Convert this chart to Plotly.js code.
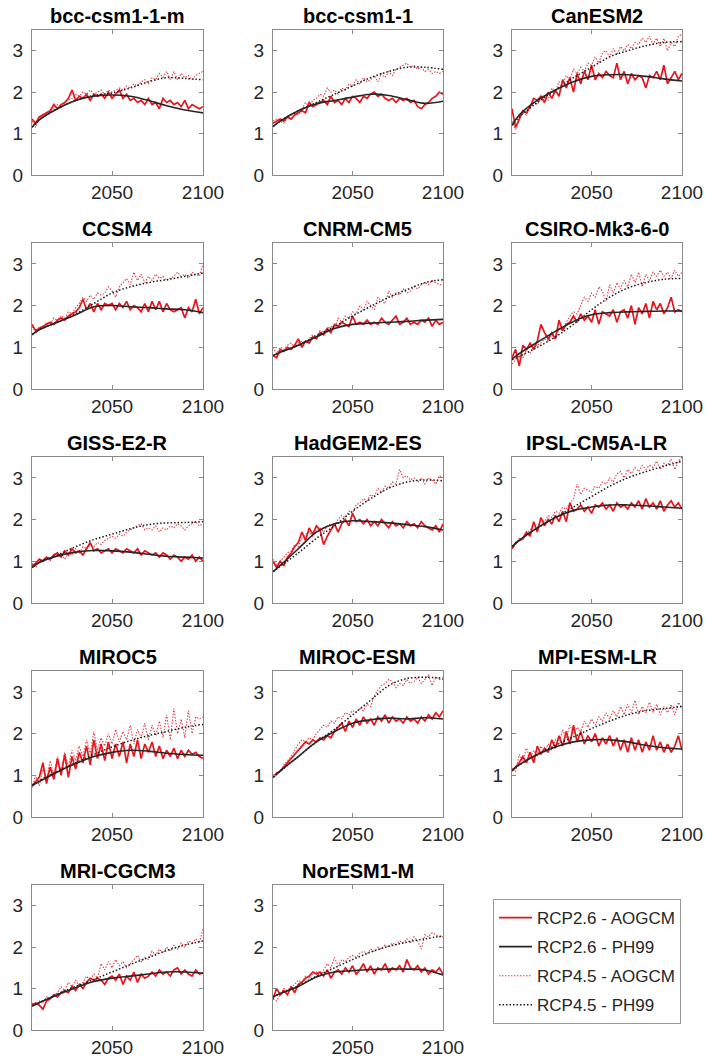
<!DOCTYPE html>
<html>
<head>
<meta charset="utf-8">
<script src="https://cdn.plot.ly/plotly-3.0.1.min.js"></script>
<style>html,body{margin:0;padding:0;background:#fff;}#chart{width:705px;height:1058px;}</style>
</head>
<body>
<div id="chart"></div>
<script>
// ---------------- DATA ----------------
const modelNames = ["bcc-csm1-1-m","bcc-csm1-1","CanESM2","CCSM4","CNRM-CM5","CSIRO-Mk3-6-0","GISS-E2-R","HadGEM2-ES","IPSL-CM5A-LR","MIROC5","MIROC-ESM","MPI-ESM-LR","MRI-CGCM3","NorESM1-M"];
const seriesNames = ["RCP2.6 - AOGCM","RCP2.6 - PH99","RCP4.5 - AOGCM","RCP4.5 - PH99"];
const xTickVals = [2050, 2100];
const yTickVals = [0, 1, 2, 3];

const yearsAOGCM = [2006,2008,2010,2012,2014,2016,2018,2020,2022,2024,2026,2028,2030,2032,2034,2036,2038,2040,2042,2044,2046,2048,2050,2052,2054,2056,2058,2060,2062,2064,2066,2068,2070,2072,2074,2076,2078,2080,2082,2084,2086,2088,2090,2092,2094,2096,2098,2100];
const yearsPH99 = [2006,2010,2020,2030,2040,2050,2060,2070,2080,2090,2100];

// bcc-csm1-1-m
const bccm_aog26 = [1.35,1.25,1.4,1.45,1.5,1.55,1.7,1.6,1.7,1.75,1.85,2.05,1.8,1.9,1.85,1.95,1.8,1.95,1.9,1.95,1.85,2.0,1.85,1.95,2.05,1.85,1.95,1.8,1.85,1.75,1.8,1.7,1.85,1.7,1.75,1.6,1.85,1.75,1.8,1.7,1.75,1.65,1.8,1.6,1.7,1.65,1.6,1.65];
const bccm_ph26  = [1.15,1.33,1.6,1.8,1.9,1.93,1.9,1.8,1.67,1.57,1.5];
const bccm_aog45 = [1.3,1.15,1.35,1.45,1.5,1.55,1.6,1.7,1.65,1.75,1.8,1.85,1.95,1.9,2.0,1.95,2.05,1.95,2.0,2.05,1.95,2.05,2.0,2.05,2.1,2.05,2.15,2.1,2.2,2.15,2.25,2.3,2.2,2.35,2.3,2.45,2.35,2.5,2.3,2.5,2.3,2.45,2.35,2.4,2.3,2.4,2.45,2.5];
const bccm_ph45  = [1.15,1.33,1.6,1.8,1.92,1.98,2.1,2.25,2.35,2.33,2.3];
// bcc-csm1-1
const bcc_aog26 = [1.25,1.3,1.35,1.3,1.4,1.35,1.45,1.5,1.55,1.5,1.75,1.65,1.7,1.75,1.8,1.7,1.9,1.75,1.8,1.7,1.85,1.75,1.9,1.85,1.75,1.9,1.85,1.95,2.0,1.9,1.95,1.85,1.8,1.85,1.75,1.85,1.8,1.85,1.75,1.8,1.65,1.6,1.7,1.75,1.85,1.9,2.0,1.95];
const bcc_ph26  = [1.17,1.3,1.55,1.72,1.8,1.88,1.95,1.92,1.82,1.73,1.78];
const bcc_aog45 = [1.3,1.35,1.3,1.25,1.4,1.45,1.5,1.45,1.6,1.75,1.65,1.8,1.85,1.95,1.9,2.1,2.0,2.05,1.95,2.1,2.05,2.2,2.15,2.3,2.2,2.35,2.25,2.3,2.4,2.25,2.45,2.35,2.5,2.4,2.55,2.6,2.65,2.7,2.6,2.65,2.55,2.6,2.5,2.55,2.45,2.5,2.45,2.5];
const bcc_ph45  = [1.17,1.3,1.55,1.75,1.95,2.15,2.35,2.5,2.6,2.6,2.55];
// CanESM2
const can_aog26 = [1.6,1.15,1.35,1.55,1.5,1.65,1.85,1.8,1.9,1.75,2.0,1.85,2.05,1.9,2.3,2.1,2.35,2.0,2.45,2.2,2.5,2.3,2.65,2.3,2.45,2.35,2.5,2.4,2.35,2.7,2.3,2.5,2.2,2.45,2.3,2.4,2.35,2.1,2.4,2.35,2.5,2.3,2.65,2.2,2.35,2.5,2.3,2.45];
const can_ph26  = [1.2,1.45,1.8,2.05,2.25,2.38,2.42,2.42,2.38,2.32,2.27];
const can_aog45 = [1.3,1.1,1.35,1.5,1.45,1.65,1.75,1.7,1.85,1.9,1.8,2.1,2.0,2.25,2.2,2.4,2.3,2.55,2.45,2.6,2.5,2.7,2.65,2.85,2.7,2.95,3.0,2.85,3.05,2.9,3.1,3.0,3.15,3.05,3.2,3.15,3.3,3.2,3.35,3.15,3.3,3.1,3.3,3.0,3.2,3.1,3.35,3.4];
const can_ph45  = [1.2,1.4,1.75,2.05,2.35,2.6,2.85,3.0,3.12,3.2,3.22];
// CCSM4
const ccsm_aog26 = [1.55,1.4,1.45,1.5,1.55,1.6,1.55,1.65,1.7,1.65,1.75,1.8,1.85,1.95,2.15,1.9,2.05,1.85,2.05,1.9,2.05,2.0,2.05,1.9,2.05,1.95,2.1,1.9,2.0,1.95,1.85,2.05,1.85,2.1,1.9,2.1,1.85,2.05,1.9,1.85,1.9,1.95,1.7,1.95,1.85,2.15,1.8,1.95];
const ccsm_ph26  = [1.3,1.42,1.6,1.78,1.97,2.0,1.97,1.95,1.92,1.9,1.83];
const ccsm_aog45 = [1.5,1.35,1.5,1.45,1.6,1.55,1.7,1.65,1.75,1.7,1.85,1.8,1.95,2.05,2.2,2.1,2.25,2.15,2.3,2.25,2.3,2.45,2.35,2.2,2.45,2.55,2.65,2.5,2.8,2.6,2.75,2.55,2.7,2.6,2.75,2.65,2.7,2.6,2.65,2.7,2.8,2.7,2.75,2.65,2.8,2.75,2.7,3.0];
const ccsm_ph45  = [1.3,1.42,1.6,1.8,2.05,2.3,2.45,2.55,2.62,2.7,2.78];
// CNRM-CM5
const cnrm_aog26 = [0.8,0.75,0.95,0.9,1.0,0.95,1.05,1.2,1.0,1.15,1.1,1.25,1.2,1.35,1.3,1.45,1.35,1.55,1.5,1.6,1.55,1.5,1.75,1.55,1.6,1.55,1.65,1.55,1.6,1.55,1.7,1.6,1.55,1.65,1.75,1.55,1.6,1.7,1.55,1.6,1.55,1.65,1.6,1.7,1.5,1.65,1.55,1.6];
const cnrm_ph26  = [0.8,0.88,1.05,1.25,1.45,1.55,1.58,1.6,1.62,1.65,1.67];
const cnrm_aog45 = [1.0,0.85,1.0,0.95,1.05,1.1,1.0,1.1,1.15,1.1,1.2,1.3,1.25,1.4,1.35,1.45,1.5,1.45,1.7,1.6,1.75,1.7,1.85,1.8,2.0,1.9,2.1,2.0,1.9,2.2,2.1,2.05,2.35,2.2,2.3,2.25,2.4,2.3,2.35,2.45,2.4,2.5,2.55,2.5,2.6,2.55,2.5,2.5];
const cnrm_ph45  = [0.8,0.88,1.05,1.28,1.5,1.75,1.98,2.2,2.38,2.55,2.62];
// CSIRO-Mk3-6-0
const csiro_aog26 = [0.75,0.95,0.55,1.05,0.95,1.1,0.95,1.15,1.55,1.35,1.2,1.35,1.2,1.65,1.4,1.55,1.6,1.75,1.6,1.8,1.65,1.75,1.6,1.9,1.55,1.85,1.8,1.75,1.9,1.6,1.85,1.9,1.7,2.0,1.55,1.95,1.8,2.05,1.7,2.1,1.9,2.05,1.8,1.95,2.2,1.85,1.9,1.85];
const csiro_ph26  = [0.72,0.85,1.12,1.38,1.62,1.78,1.83,1.85,1.86,1.87,1.87];
const csiro_aog45 = [0.6,0.7,0.85,0.75,0.95,0.85,1.0,1.05,1.1,1.2,1.15,1.3,1.2,1.45,1.4,1.6,1.75,1.85,1.8,2.0,2.2,2.1,2.3,2.2,2.45,2.35,2.1,2.5,2.3,2.55,2.4,2.6,2.45,2.75,2.55,2.8,2.45,2.75,2.6,2.8,2.7,2.85,2.7,2.8,2.65,2.85,2.7,2.8];
const csiro_ph45  = [0.7,0.78,1.0,1.25,1.55,1.9,2.2,2.42,2.55,2.63,2.65];
// GISS-E2-R
const giss_aog26 = [0.9,0.95,1.05,1.0,1.1,1.05,1.15,1.2,1.1,1.25,1.15,1.3,1.2,1.25,1.15,1.3,1.45,1.25,1.3,1.2,1.25,1.3,1.2,1.3,1.25,1.2,1.3,1.25,1.2,1.3,1.15,1.25,1.2,1.15,1.2,1.1,1.2,1.15,1.05,1.15,1.1,1.0,1.1,1.05,1.15,1.0,1.1,1.0];
const giss_ph26  = [0.85,0.97,1.13,1.22,1.26,1.25,1.22,1.17,1.12,1.1,1.08];
const giss_aog45 = [0.95,0.85,1.0,1.05,1.1,1.0,1.15,1.1,1.2,1.05,1.2,1.15,1.3,1.2,1.35,1.3,1.4,1.35,1.45,1.4,1.5,1.55,1.6,1.55,1.65,1.6,1.7,1.75,1.8,1.85,1.9,1.75,1.8,1.75,1.85,1.7,1.8,1.75,1.85,1.8,1.9,1.85,1.75,1.85,1.9,1.95,1.85,1.9];
const giss_ph45  = [0.85,0.98,1.15,1.35,1.52,1.65,1.78,1.88,1.92,1.93,1.95];
// HadGEM2-ES
const had_aog26 = [1.0,0.85,1.0,0.9,1.1,1.2,1.35,1.45,1.7,1.5,1.8,1.65,1.85,1.75,1.4,1.6,1.75,1.9,1.7,1.9,2.0,1.85,2.15,1.95,2.0,1.9,2.0,1.85,1.95,1.85,2.0,1.9,1.8,1.95,1.85,1.9,1.8,1.95,1.85,1.9,1.8,1.95,1.85,1.8,1.75,1.85,1.7,1.9];
const had_ph26  = [0.75,0.9,1.3,1.7,1.9,1.97,1.95,1.92,1.88,1.83,1.75];
const had_aog45 = [1.05,0.9,1.0,1.1,1.2,1.25,1.4,1.35,1.55,1.65,1.7,1.6,1.75,1.8,1.7,1.85,1.9,1.85,2.0,2.1,2.05,2.2,2.15,2.35,2.4,2.5,2.45,2.6,2.55,2.75,2.65,2.8,2.75,2.9,2.85,3.2,3.0,3.05,2.95,3.0,2.9,3.0,2.85,3.0,2.95,2.85,3.05,3.0];
const had_ph45  = [0.75,0.88,1.2,1.55,1.85,2.2,2.5,2.75,2.9,2.95,2.93];
// IPSL-CM5A-LR
const ipsl_aog26 = [1.3,1.45,1.5,1.55,1.7,1.6,1.95,1.7,2.05,1.85,2.0,1.9,2.1,1.95,2.2,1.95,2.4,2.2,2.25,2.35,2.2,2.3,2.15,2.35,2.3,2.4,2.25,2.35,2.2,2.4,2.3,2.35,2.25,2.4,2.3,2.45,2.25,2.5,2.3,2.4,2.25,2.45,2.2,2.35,2.45,2.3,2.4,2.25];
const ipsl_ph26  = [1.35,1.5,1.8,2.05,2.22,2.3,2.35,2.35,2.33,2.3,2.27];
const ipsl_aog45 = [1.3,1.4,1.55,1.5,1.65,1.75,1.9,1.8,2.0,1.95,2.1,2.05,2.2,2.15,2.3,2.25,2.4,2.5,2.85,2.6,2.75,2.7,2.65,2.8,2.75,2.9,2.85,3.0,2.9,3.1,3.15,3.0,3.2,3.1,3.25,3.15,3.3,3.2,3.3,3.25,3.4,3.2,3.35,3.3,3.45,3.2,3.4,3.5];
const ipsl_ph45  = [1.35,1.5,1.8,2.05,2.3,2.55,2.8,3.0,3.15,3.28,3.4];
// MIROC5
const miroc5_aog26 = [0.75,0.85,0.95,1.3,0.8,1.2,0.9,1.4,1.0,1.5,0.95,1.45,1.15,1.55,1.3,1.7,1.25,1.85,1.4,1.75,1.35,1.8,1.4,1.75,1.45,1.8,1.3,1.75,1.45,1.85,1.4,1.75,1.55,1.8,1.45,1.7,1.4,1.6,1.45,1.65,1.4,1.6,1.45,1.6,1.5,1.55,1.45,1.4];
const miroc5_ph26  = [0.75,0.85,1.08,1.28,1.45,1.55,1.6,1.58,1.53,1.5,1.48];
const miroc5_aog45 = [0.7,1.0,0.75,1.15,0.9,1.35,1.0,1.45,1.1,1.55,1.2,1.6,1.35,1.7,1.45,1.85,1.5,2.05,1.6,1.9,1.7,2.0,1.75,2.1,1.8,2.05,1.85,2.2,1.75,2.1,1.9,2.25,1.85,2.2,1.95,2.3,1.9,2.45,1.85,2.6,2.0,2.35,1.9,2.55,2.0,2.4,2.35,2.4];
const miroc5_ph45  = [0.75,0.87,1.1,1.3,1.5,1.68,1.83,1.95,2.05,2.15,2.22];
// MIROC-ESM
const mesm_aog26 = [0.95,1.05,1.1,1.2,1.3,1.4,1.5,1.6,1.7,1.8,1.75,1.85,1.8,1.9,1.85,1.95,1.9,2.05,2.15,2.25,2.05,2.3,2.15,2.35,2.2,2.4,2.25,2.35,2.2,2.4,2.3,2.45,2.25,2.4,2.3,2.35,2.25,2.4,2.3,2.35,2.25,2.4,2.3,2.45,2.35,2.5,2.4,2.55];
const mesm_ph26  = [0.95,1.1,1.45,1.8,2.05,2.25,2.33,2.37,2.35,2.38,2.35];
const mesm_aog45 = [1.0,1.05,1.1,1.25,1.35,1.45,1.6,1.75,1.85,1.8,1.9,1.85,2.0,2.1,2.2,2.15,2.3,2.25,2.4,2.35,2.5,2.45,2.55,2.5,2.6,2.55,2.7,2.65,2.9,3.05,3.15,3.2,3.3,3.25,3.1,3.2,3.15,3.3,3.2,3.25,3.35,3.2,3.3,3.4,3.15,3.35,3.3,3.3];
const mesm_ph45  = [0.95,1.1,1.45,1.8,2.1,2.45,2.8,3.15,3.32,3.35,3.33];
// MPI-ESM-LR
const mpi_aog26 = [1.1,1.2,1.3,1.45,1.3,1.55,1.3,1.7,1.5,1.65,1.55,1.85,1.65,1.95,1.7,2.05,1.75,2.2,1.8,2.05,1.75,1.95,1.8,2.0,1.7,1.9,1.75,1.95,1.7,1.9,1.6,1.85,1.55,1.9,1.6,1.85,1.55,1.8,1.6,1.95,1.6,1.8,1.55,1.75,1.55,1.7,1.95,1.6];
const mpi_ph26  = [1.12,1.25,1.5,1.68,1.8,1.85,1.85,1.8,1.72,1.66,1.63];
const mpi_aog45 = [1.15,1.1,1.5,1.35,1.65,1.4,1.6,1.45,1.7,1.55,1.75,1.6,1.85,1.75,2.1,1.9,2.2,2.0,2.15,2.05,2.3,2.15,2.35,2.2,2.4,2.3,2.5,2.35,2.55,2.4,2.65,2.45,2.7,2.5,2.8,2.45,2.65,2.5,2.75,2.5,2.7,2.45,2.65,2.5,2.7,2.45,2.75,2.6];
const mpi_ph45  = [1.12,1.25,1.5,1.72,1.92,2.12,2.3,2.45,2.55,2.6,2.65];
// MRI-CGCM3
const mri_aog26 = [0.6,0.65,0.6,0.5,0.7,0.75,0.85,0.8,0.9,0.95,0.9,1.05,0.95,1.1,1.0,1.15,1.25,1.2,1.25,1.2,1.1,1.25,1.3,1.2,1.35,1.1,1.3,1.2,1.4,1.15,1.35,1.25,1.3,1.4,1.3,1.45,1.35,1.4,1.3,1.45,1.5,1.35,1.45,1.35,1.3,1.45,1.35,1.38];
const mri_ph26  = [0.58,0.66,0.85,1.02,1.17,1.25,1.3,1.35,1.4,1.4,1.37];
const mri_aog45 = [0.65,0.6,0.7,0.65,0.8,0.75,0.85,0.9,1.05,0.95,1.15,1.05,1.2,1.05,1.15,1.3,1.2,1.35,1.25,1.6,1.45,1.65,1.5,1.7,1.55,1.65,1.5,1.6,1.7,1.8,1.65,1.75,1.7,1.9,1.8,1.95,1.85,2.0,1.9,2.05,1.95,2.1,2.0,2.15,2.1,2.2,2.1,2.45];
const mri_ph45  = [0.58,0.66,0.87,1.05,1.22,1.4,1.58,1.75,1.92,2.05,2.15];
// NorESM1-M
const nor_aog26 = [0.75,1.0,0.85,0.95,0.85,1.05,0.9,1.1,1.15,1.25,1.3,1.4,1.35,1.4,1.3,1.45,1.25,1.4,1.45,1.35,1.5,1.4,1.55,1.35,1.45,1.6,1.4,1.55,1.35,1.5,1.45,1.6,1.4,1.5,1.45,1.55,1.4,1.7,1.5,1.45,1.55,1.4,1.5,1.35,1.45,1.4,1.5,1.35];
const nor_ph26  = [0.8,0.88,1.05,1.28,1.4,1.43,1.46,1.47,1.47,1.45,1.33];
const nor_aog45 = [0.75,0.7,0.85,1.0,0.95,1.05,1.1,1.2,1.15,1.3,1.25,1.35,1.4,1.3,1.45,1.6,1.5,1.75,1.55,1.7,1.65,1.75,1.8,1.75,1.85,1.9,1.85,1.95,1.9,2.0,1.95,2.05,2.0,2.1,2.05,2.15,2.1,2.2,2.1,2.25,2.15,1.95,2.3,2.25,2.35,2.3,2.25,2.25];
const nor_ph45  = [0.8,0.88,1.07,1.3,1.5,1.7,1.88,2.02,2.12,2.2,2.27];

const models = [
  [bccm_aog26, bccm_ph26, bccm_aog45, bccm_ph45],
  [bcc_aog26, bcc_ph26, bcc_aog45, bcc_ph45],
  [can_aog26, can_ph26, can_aog45, can_ph45],
  [ccsm_aog26, ccsm_ph26, ccsm_aog45, ccsm_ph45],
  [cnrm_aog26, cnrm_ph26, cnrm_aog45, cnrm_ph45],
  [csiro_aog26, csiro_ph26, csiro_aog45, csiro_ph45],
  [giss_aog26, giss_ph26, giss_aog45, giss_ph45],
  [had_aog26, had_ph26, had_aog45, had_ph45],
  [ipsl_aog26, ipsl_ph26, ipsl_aog45, ipsl_ph45],
  [miroc5_aog26, miroc5_ph26, miroc5_aog45, miroc5_ph45],
  [mesm_aog26, mesm_ph26, mesm_aog45, mesm_ph45],
  [mpi_aog26, mpi_ph26, mpi_aog45, mpi_ph45],
  [mri_aog26, mri_ph26, mri_aog45, mri_ph45],
  [nor_aog26, nor_ph26, nor_aog45, nor_ph45]
];

// ---------------- LAYOUT ----------------
const W = 705, H = 1058;
const colL = [32, 273, 512], colR = [203, 443, 682];
const rowT = [30, 243, 457, 671, 885], rowB = [175, 389, 603, 817, 1030];
const FONT = "Liberation Sans, Arial, Helvetica, sans-serif";
const AXC = "#8a8a8a";
const TXT = "#262626";

const styles = [
  {color: "#e8141b", width: 1.7, dash: "solid",       shape: "linear", rank: 1},
  {color: "#262626", width: 1.6, dash: "solid",       shape: "spline", rank: 2},
  {color: "#e0404a", width: 1.1, dash: "1.5px,1.5px", shape: "linear", rank: 3},
  {color: "#1a1a1a", width: 1.5, dash: "1.5px,2px",   shape: "spline", rank: 4}
];
const drawOrder = [2, 0, 3, 1];

const traces = [];
const layout = {
  width: W, height: H,
  margin: {l: 0, r: 0, t: 0, b: 0},
  paper_bgcolor: "#ffffff", plot_bgcolor: "#ffffff",
  font: {family: FONT, color: TXT},
  showlegend: true,
  legend: {
    x: 493 / W, y: 1 - 899 / H, xanchor: "left", yanchor: "top",
    bgcolor: "#ffffff", bordercolor: "#999999", borderwidth: 1,
    font: {family: FONT, size: 17, color: TXT},
    tracegroupgap: 4, itemwidth: 33, traceorder: "grouped"
  },
  annotations: []
};

models.forEach((series, i) => {
  const r = Math.floor(i / 3), c = i % 3;
  const id = i === 0 ? "" : String(i + 1);
  const xa = "xaxis" + id, ya = "yaxis" + id;
  layout[xa] = {
    domain: [colL[c] / W, colR[c] / W], anchor: "y" + id,
    range: [2006, 2100], tickvals: xTickVals, ticktext: xTickVals.map(String),
    ticks: "inside", ticklen: 4, tickcolor: AXC, tickwidth: 1,
    showline: true, linecolor: AXC, linewidth: 1, mirror: "ticks",
    showgrid: false, zeroline: false,
    tickfont: {family: FONT, size: 19, color: TXT}, fixedrange: true
  };
  layout[ya] = {
    domain: [1 - rowB[r] / H, 1 - rowT[r] / H], anchor: "x" + id,
    range: [0, 3.5], tickvals: yTickVals, ticktext: yTickVals.map(String),
    ticks: "inside", ticklen: 4, tickcolor: AXC, tickwidth: 1,
    showline: true, linecolor: AXC, linewidth: 1, mirror: "ticks",
    showgrid: false, zeroline: false, ticklabelstandoff: 4,
    tickfont: {family: FONT, size: 19, color: TXT}, fixedrange: true
  };
  layout.annotations.push({
    xref: "paper", yref: "paper",
    x: (colL[c] + colR[c]) / 2 / W, y: 1 - (rowT[r] - 1) / H,
    xanchor: "center", yanchor: "bottom", showarrow: false,
    text: "<b>" + modelNames[i] + "</b>",
    font: {family: FONT, size: 20, color: "#000000"}
  });
  drawOrder.forEach(k => {
    const st = styles[k];
    const isAOGCM = (k === 0 || k === 2);
    traces.push({
      type: "scatter", mode: "lines",
      x: isAOGCM ? yearsAOGCM : yearsPH99,
      y: series[k],
      xaxis: "x" + id, yaxis: "y" + id,
      name: seriesNames[k],
      legendgroup: "g" + k,
      legendrank: st.rank,
      showlegend: i === 0,
      hoverinfo: "skip",
      line: {color: st.color, width: st.width, dash: st.dash, shape: st.shape, smoothing: 1}
    });
  });
});

Plotly.newPlot("chart", traces, layout, {staticPlot: true, displayModeBar: false});
</script>
</body>
</html>
